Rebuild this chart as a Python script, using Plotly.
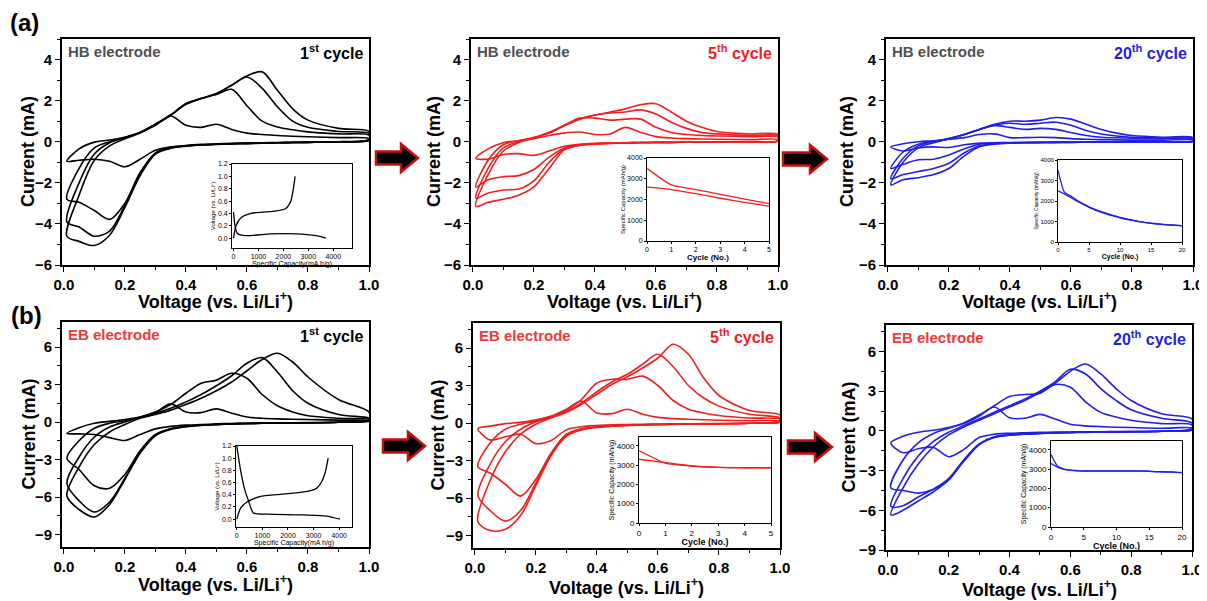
import plotly.graph_objects as go

# The page draws the figure 8 px in from the top-left corner of the window,
# so the figure is sized/offset to place everything at the reference pixel positions.
WIN_W, WIN_H = 1207, 601
OFF = 8
W, H = WIN_W - OFF, WIN_H - OFF
BLACK = "#000000"
RED = "#f01e1e"
BLUE = "#1f1fe6"

# ---------------- CV data (current in mA on a shared voltage grid) ----------------
V_GRID = [0.01, 0.05, 0.1, 0.15, 0.2, 0.25, 0.3, 0.35, 0.4, 0.45, 0.5, 0.55, 0.6, 0.65, 0.7, 0.75, 0.8, 0.9, 1.0]

HB1_ANODIC = [
    [-0.95, -0.35, -0.02, 0.08, 0.22, 0.45, 0.80, 1.25, 0.80, 0.70, 0.85, 0.60, 0.42, 0.35, 0.30, 0.27, 0.24, 0.20, 0.15],
    [-2.80, -1.30, -0.30, 0.00, 0.20, 0.45, 0.85, 1.30, 1.85, 2.10, 2.30, 2.55, 1.75, 1.00, 0.72, 0.58, 0.48, 0.38, 0.32],
    [-3.90, -2.00, -0.60, -0.05, 0.20, 0.45, 0.85, 1.30, 1.85, 2.10, 2.35, 2.75, 3.15, 2.60, 1.70, 1.00, 0.70, 0.50, 0.40],
    [-4.60, -2.60, -0.90, -0.20, 0.15, 0.42, 0.82, 1.28, 1.82, 2.10, 2.35, 2.75, 3.20, 3.40, 2.50, 1.60, 1.05, 0.65, 0.50],
]
HB1_CATHODIC = [
    [-0.95, -0.90, -0.85, -0.95, -1.22, -0.85, -0.42, -0.25, -0.18, -0.13, -0.10, -0.08, -0.06, -0.05, -0.04, -0.03, -0.02, 0.00, 0.05],
    [-2.80, -2.95, -3.35, -3.78, -3.00, -1.50, -0.55, -0.30, -0.20, -0.15, -0.12, -0.10, -0.08, -0.06, -0.05, -0.04, -0.03, 0.00, 0.08],
    [-3.90, -4.15, -4.60, -4.35, -3.10, -1.55, -0.55, -0.30, -0.20, -0.15, -0.12, -0.10, -0.08, -0.06, -0.05, -0.04, -0.03, 0.00, 0.10],
    [-4.60, -4.85, -5.05, -4.55, -3.20, -1.65, -0.60, -0.32, -0.22, -0.16, -0.13, -0.11, -0.09, -0.07, -0.05, -0.04, -0.03, 0.00, 0.12],
]

HB5_ANODIC = [
    [-0.80, -0.35, -0.05, 0.05, 0.15, 0.30, 0.42, 0.47, 0.35, 0.38, 0.70, 0.45, 0.25, 0.18, 0.15, 0.13, 0.12, 0.10, 0.10],
    [-2.20, -0.90, -0.15, 0.05, 0.20, 0.45, 0.80, 1.15, 1.15, 1.05, 1.10, 1.10, 0.70, 0.45, 0.35, 0.30, 0.28, 0.25, 0.22],
    [-2.75, -1.30, -0.30, 0.00, 0.20, 0.45, 0.80, 1.10, 1.30, 1.40, 1.45, 1.55, 1.35, 0.95, 0.65, 0.45, 0.38, 0.30, 0.28],
    [-3.15, -1.60, -0.45, -0.05, 0.18, 0.42, 0.78, 1.10, 1.30, 1.45, 1.60, 1.80, 1.85, 1.45, 1.00, 0.70, 0.50, 0.38, 0.35],
]
HB5_CATHODIC = [
    [-0.80, -0.85, -0.62, -0.58, -0.66, -0.45, -0.22, -0.12, -0.08, -0.06, -0.05, -0.04, -0.03, -0.03, -0.02, -0.02, -0.01, 0.00, 0.03],
    [-2.20, -1.85, -1.70, -1.65, -1.35, -0.75, -0.30, -0.15, -0.10, -0.07, -0.05, -0.04, -0.03, -0.03, -0.02, -0.02, -0.01, 0.00, 0.05],
    [-2.75, -2.50, -2.35, -2.30, -1.90, -1.00, -0.35, -0.15, -0.10, -0.07, -0.05, -0.04, -0.03, -0.03, -0.02, -0.02, -0.01, 0.00, 0.05],
    [-3.15, -2.95, -2.80, -2.60, -2.20, -1.30, -0.40, -0.18, -0.12, -0.08, -0.06, -0.05, -0.04, -0.03, -0.02, -0.02, -0.01, 0.00, 0.05],
]

HB20_ANODIC = [
    [-0.25, -0.10, 0.00, 0.05, 0.12, 0.20, 0.35, 0.38, 0.20, 0.20, 0.22, 0.20, 0.15, 0.12, 0.10, 0.09, 0.08, 0.08, 0.08],
    [-1.30, -0.50, -0.12, 0.02, 0.15, 0.35, 0.60, 0.78, 0.70, 0.60, 0.65, 0.60, 0.45, 0.30, 0.22, 0.19, 0.17, 0.15, 0.14],
    [-1.80, -0.80, -0.20, 0.00, 0.15, 0.35, 0.60, 0.82, 0.90, 0.85, 0.90, 0.95, 0.80, 0.55, 0.38, 0.28, 0.22, 0.18, 0.16],
    [-2.10, -1.00, -0.30, -0.05, 0.14, 0.35, 0.60, 0.85, 1.00, 1.00, 1.05, 1.18, 1.10, 0.85, 0.60, 0.42, 0.30, 0.22, 0.20],
]
HB20_CATHODIC = [
    [-0.25, -0.45, -0.30, -0.25, -0.28, -0.15, -0.07, -0.05, -0.04, -0.03, -0.03, -0.02, -0.02, -0.02, -0.01, -0.01, -0.01, 0.00, 0.02],
    [-1.30, -1.10, -0.88, -0.85, -0.65, -0.35, -0.12, -0.07, -0.05, -0.04, -0.03, -0.03, -0.02, -0.02, -0.02, -0.01, -0.01, 0.00, 0.03],
    [-1.80, -1.60, -1.45, -1.30, -1.05, -0.55, -0.20, -0.10, -0.06, -0.05, -0.04, -0.03, -0.03, -0.02, -0.02, -0.01, -0.01, 0.00, 0.03],
    [-2.10, -1.85, -1.75, -1.60, -1.30, -0.70, -0.25, -0.12, -0.07, -0.05, -0.04, -0.03, -0.03, -0.02, -0.02, -0.01, -0.01, 0.00, 0.03],
]

EB1_ANODIC = [
    [-0.90, -0.45, -0.10, 0.05, 0.20, 0.40, 0.75, 1.45, 0.80, 0.75, 1.05, 0.70, 0.40, 0.30, 0.25, 0.22, 0.20, 0.15, 0.10],
    [-2.90, -1.50, -0.50, -0.10, 0.10, 0.40, 0.80, 1.40, 2.30, 3.10, 3.35, 3.90, 3.50, 2.20, 1.30, 0.80, 0.50, 0.30, 0.20],
    [-4.90, -2.80, -1.20, -0.40, 0.00, 0.35, 0.70, 1.10, 1.60, 2.20, 2.90, 3.70, 4.70, 5.15, 4.00, 2.50, 1.50, 0.60, 0.30],
    [-5.90, -3.60, -1.80, -0.80, -0.20, 0.30, 0.60, 0.95, 1.40, 1.90, 2.50, 3.20, 4.10, 5.00, 5.50, 4.80, 3.60, 1.80, 0.80],
]
EB1_CATHODIC = [
    [-0.90, -0.95, -1.00, -1.25, -1.48, -1.00, -0.55, -0.35, -0.25, -0.20, -0.15, -0.12, -0.10, -0.08, -0.07, -0.06, -0.05, -0.02, 0.05],
    [-2.90, -3.80, -5.10, -5.30, -4.20, -2.30, -1.00, -0.55, -0.35, -0.25, -0.20, -0.15, -0.12, -0.10, -0.08, -0.07, -0.06, -0.02, 0.10],
    [-4.90, -6.30, -7.20, -6.40, -4.50, -2.40, -1.05, -0.55, -0.35, -0.25, -0.20, -0.15, -0.12, -0.10, -0.08, -0.07, -0.06, -0.02, 0.15],
    [-5.90, -7.00, -7.60, -6.60, -4.60, -2.50, -1.10, -0.60, -0.38, -0.27, -0.21, -0.16, -0.13, -0.10, -0.09, -0.08, -0.07, -0.02, 0.20],
]

EB5_ANODIC = [
    [-0.45, -0.25, -0.05, 0.05, 0.25, 0.55, 1.10, 1.75, 0.80, 0.75, 1.10, 0.70, 0.45, 0.35, 0.30, 0.26, 0.22, 0.18, 0.15],
    [-3.50, -1.60, -0.50, -0.10, 0.15, 0.50, 1.00, 1.90, 3.20, 3.50, 3.50, 3.75, 3.00, 1.80, 1.10, 0.80, 0.60, 0.40, 0.30],
    [-5.80, -3.30, -1.50, -0.50, 0.10, 0.45, 0.90, 1.60, 2.50, 3.30, 3.90, 4.70, 5.50, 4.50, 3.00, 2.00, 1.35, 0.70, 0.40],
    [-7.90, -4.60, -2.30, -0.90, -0.10, 0.40, 0.85, 1.50, 2.30, 3.10, 3.70, 4.40, 5.20, 6.30, 5.50, 3.60, 2.20, 1.00, 0.65],
]
EB5_CATHODIC = [
    [-0.45, -1.35, -1.10, -0.90, -1.65, -1.40, -0.55, -0.30, -0.20, -0.15, -0.12, -0.10, -0.08, -0.07, -0.06, -0.05, -0.04, -0.02, 0.05],
    [-3.50, -4.00, -4.90, -5.85, -4.50, -2.40, -0.90, -0.45, -0.30, -0.22, -0.18, -0.14, -0.12, -0.10, -0.08, -0.07, -0.06, -0.02, 0.10],
    [-5.80, -7.00, -7.85, -7.00, -4.80, -2.50, -1.00, -0.50, -0.32, -0.24, -0.19, -0.15, -0.12, -0.10, -0.08, -0.07, -0.06, -0.02, 0.15],
    [-7.90, -8.60, -8.50, -7.40, -5.00, -2.60, -1.05, -0.55, -0.35, -0.26, -0.20, -0.16, -0.13, -0.11, -0.09, -0.08, -0.07, -0.02, 0.20],
]

EB20_ANODIC = [
    [-0.90, -0.40, -0.10, 0.05, 0.25, 0.55, 1.10, 1.80, 1.00, 0.95, 1.25, 0.90, 0.50, 0.38, 0.32, 0.28, 0.25, 0.20, 0.20],
    [-4.30, -2.20, -0.90, -0.20, 0.20, 0.60, 1.20, 1.90, 2.60, 2.75, 2.85, 3.50, 3.30, 2.20, 1.40, 1.05, 0.80, 0.55, 0.45],
    [-5.70, -3.60, -1.90, -0.80, -0.10, 0.40, 0.90, 1.40, 1.90, 2.40, 3.00, 3.70, 4.65, 4.30, 3.20, 2.30, 1.60, 0.95, 0.60],
    [-6.35, -4.30, -2.50, -1.20, -0.30, 0.30, 0.80, 1.30, 1.80, 2.30, 2.90, 3.60, 4.50, 5.05, 4.30, 3.20, 2.30, 1.30, 0.90],
]
EB20_CATHODIC = [
    [-0.90, -1.65, -1.35, -1.25, -1.95, -1.40, -0.50, -0.25, -0.18, -0.14, -0.11, -0.09, -0.08, -0.07, -0.06, -0.05, -0.04, -0.02, 0.05],
    [-4.30, -4.50, -4.70, -4.40, -3.70, -2.20, -1.00, -0.45, -0.30, -0.22, -0.18, -0.15, -0.12, -0.10, -0.09, -0.08, -0.07, -0.03, 0.10],
    [-5.70, -5.65, -5.00, -4.40, -3.60, -2.20, -1.00, -0.48, -0.32, -0.24, -0.19, -0.15, -0.12, -0.10, -0.09, -0.08, -0.07, -0.03, 0.15],
    [-6.35, -6.00, -5.30, -4.60, -3.70, -2.30, -1.05, -0.50, -0.33, -0.25, -0.20, -0.16, -0.13, -0.11, -0.09, -0.08, -0.07, -0.03, 0.20],
]

# ---------------- inset data ----------------
HB1_CHG_CAP = [0, 100, 300, 700, 1200, 1700, 2100, 2300, 2400, 2470]
HB1_CHG_V = [0.0, 0.2, 0.33, 0.40, 0.42, 0.44, 0.48, 0.60, 0.80, 1.0]
HB1_DIS_CAP = [0, 60, 150, 500, 1500, 2500, 3300, 3700]
HB1_DIS_V = [0.42, 0.20, 0.08, 0.04, 0.07, 0.07, 0.04, 0.0]

EB1_CHG_CAP = [0, 150, 400, 900, 1800, 2700, 3100, 3300, 3450, 3570]
EB1_CHG_V = [0.0, 0.18, 0.28, 0.37, 0.41, 0.45, 0.50, 0.60, 0.76, 1.0]
EB1_DIS_CAP = [0, 150, 300, 450, 650, 1200, 2500, 3500, 4030]
EB1_DIS_V = [1.2, 0.8, 0.5, 0.31, 0.10, 0.08, 0.07, 0.05, 0.0]

CYCLES_5 = [0, 1, 2, 3, 4, 5]
HB5_CAP_A = [3500, 2700, 2480, 2250, 2020, 1800]
HB5_CAP_B = [2600, 2480, 2280, 2060, 1860, 1680]
EB5_CAP_A = [3750, 3100, 2950, 2880, 2860, 2860]
EB5_CAP_B = [3300, 3120, 2960, 2880, 2860, 2850]

CYCLES_20 = [0, 1, 2, 3, 4, 5, 6, 7, 8, 9, 10, 11, 12, 13, 14, 15, 16, 17, 18, 19, 20]
HB20_CAP_A = [3500, 2450, 2250, 2050, 1880, 1720, 1590, 1480, 1380, 1290, 1200, 1130, 1070, 1010, 960, 920, 890, 860, 840, 820, 800]
HB20_CAP_B = [2500, 2350, 2180, 2000, 1840, 1690, 1560, 1450, 1350, 1260, 1180, 1110, 1050, 990, 950, 910, 875, 850, 830, 810, 790]
EB20_CAP_A = [3750, 3150, 3000, 2940, 2920, 2900, 2900, 2900, 2900, 2900, 2900, 2900, 2900, 2900, 2900, 2890, 2870, 2860, 2850, 2840, 2820]
EB20_CAP_B = [3280, 3100, 2980, 2930, 2910, 2890, 2890, 2890, 2890, 2890, 2890, 2890, 2890, 2890, 2890, 2880, 2860, 2850, 2840, 2830, 2810]

ELECTRODE_LABELS = ["HB electrode", "HB electrode", "HB electrode", "EB electrode", "EB electrode", "EB electrode"]
CYCLE_NUMS = ["1", "5", "20", "1", "5", "20"]
CYCLE_SUPS = ["st", "th", "th", "st", "th", "th"]

# ---------------- layout geometry (window pixels) ----------------
MAIN_BOX = [(62, 369, 39, 265), (471, 778, 39, 265), (886, 1193, 39, 265),
            (62, 369, 322, 547), (473, 780, 323, 548), (886, 1192, 325, 550)]
MAIN_YRANGE = [(-6, 5), (-6, 5), (-6, 5), (-10, 8), (-10, 8), (-9, 8)]
INSET_BOX = [(232, 352, 164, 248), (647, 769, 158, 241), (1058, 1182, 160, 242),
             (236, 352, 446, 527), (639, 771, 437, 523), (1051, 1182, 441, 527)]
PANEL_COLOR = [BLACK, RED, BLUE, BLACK, RED, BLUE]
ELEC_COLOR = ["#505050", "#505050", "#505050", "#f03a3a", "#f03a3a", "#f03a3a"]


def px_x(p):
    return (p - OFF) / W


def px_y(p):
    return 1 - (p - OFF) / H


def dx(a, b):
    return [px_x(a), px_x(b)]


def dy(top, bottom):
    return [px_y(bottom), px_y(top)]


fig = go.Figure()

cv_sets = [(HB1_ANODIC, HB1_CATHODIC), (HB5_ANODIC, HB5_CATHODIC), (HB20_ANODIC, HB20_CATHODIC),
           (EB1_ANODIC, EB1_CATHODIC), (EB5_ANODIC, EB5_CATHODIC), (EB20_ANODIC, EB20_CATHODIC)]

for i, (an, ca) in enumerate(cv_sets):
    ax = "" if i == 0 else str(i + 1)
    for a_loop, c_loop in zip(an, ca):
        fig.add_trace(go.Scatter(
            x=V_GRID + V_GRID[::-1], y=a_loop + c_loop[::-1],
            mode="lines", line=dict(color=PANEL_COLOR[i], width=1.6, shape="spline", smoothing=0.9),
            xaxis="x" + ax, yaxis="y" + ax, hoverinfo="skip", showlegend=False))

# insets
inset_traces = [
    [(HB1_CHG_CAP, HB1_CHG_V), (HB1_DIS_CAP, HB1_DIS_V)],
    [(CYCLES_5, HB5_CAP_A), (CYCLES_5, HB5_CAP_B)],
    [(CYCLES_20, HB20_CAP_A), (CYCLES_20, HB20_CAP_B)],
    [(EB1_CHG_CAP, EB1_CHG_V), (EB1_DIS_CAP, EB1_DIS_V)],
    [(CYCLES_5, EB5_CAP_A), (CYCLES_5, EB5_CAP_B)],
    [(CYCLES_20, EB20_CAP_A), (CYCLES_20, EB20_CAP_B)],
]
for i, trs in enumerate(inset_traces):
    n = str(i + 7)
    for xs, ys in trs:
        fig.add_trace(go.Scatter(
            x=xs, y=ys, mode="lines",
            line=dict(color=PANEL_COLOR[i], width=1.3, shape="spline", smoothing=0.6),
            xaxis="x" + n, yaxis="y" + n, hoverinfo="skip", showlegend=False))

FONT = "Liberation Sans, Arial, sans-serif"
layout = dict(
    template="none",
    width=W, height=H, margin=dict(l=0, r=0, t=0, b=0, pad=0, autoexpand=False),
    paper_bgcolor="white", plot_bgcolor="white", showlegend=False,
    font=dict(family=FONT, color="black"),
)

for i in range(6):
    n = "" if i == 0 else str(i + 1)
    x0, x1, y0, y1 = MAIN_BOX[i]
    row2 = i >= 3
    layout["xaxis" + n] = dict(
        domain=dx(x0, x1), range=[-0.006, 1.0], anchor="y" + n, automargin=False,
        showline=True, mirror=True, linecolor="black", linewidth=1.6,
        ticks="outside", ticklen=5, tickwidth=1.3, tickcolor="black",
        tick0=0, dtick=0.2, tickformat=".1f",
        minor=dict(ticks="outside", ticklen=3, tickcolor="black", dtick=0.1, showgrid=False),
        showgrid=False, zeroline=False,
        tickfont=dict(family=FONT, size=15, color="black", weight="bold"))
    layout["yaxis" + n] = dict(
        domain=dy(y0, y1), range=list(MAIN_YRANGE[i]), anchor="x" + n, automargin=False,
        showline=True, mirror=True, linecolor="black", linewidth=1.6,
        ticks="outside", ticklen=5, tickwidth=1.3, tickcolor="black",
        tick0=0, dtick=3 if row2 else 2,
        minor=dict(ticks="outside", ticklen=3, tickcolor="black", dtick=1.5 if row2 else 1, showgrid=False),
        showgrid=False, zeroline=False,
        tickfont=dict(family=FONT, size=15, color="black", weight="bold"))

INSET_XRANGE = [(-60, 4750), (0, 5), (0, 20), (-30, 4500), (0, 5), (0, 20)]
INSET_YRANGE = [(-0.16, 1.2), (0, 4000), (0, 4000), (-0.13, 1.2), (0, 4450), (0, 4450)]
INSET_XDTICK = [1000, 1, 5, 1000, 1, 5]
INSET_YDTICK = [0.2, 1000, 1000, 0.2, 1000, 1000]
INSET_XTITLE = ["Specific Capacity(mA h/g)", "Cycle (No.)", "Cycle (No.)",
                "Specific Capacity(mA h/g)", "Cycle (No.)", "Cycle (No.)"]
INSET_YTITLE = ["Voltage (vs. Li/Li<sup>+</sup>)", "Specific Capacity (mAh/g)", "Specific Capacity (mAh/g)",
                "Voltage (vs. Li/Li<sup>+</sup>)", "Specific Capacity (mAh/g)", "Specific Capacity (mAh/g)"]
INSET_FS = [7, 7, 6, 7, 8, 8]

for i in range(6):
    n = str(i + 7)
    x0, x1, y0, y1 = INSET_BOX[i]
    fs = INSET_FS[i]
    cyc = i in (1, 2, 4, 5)
    layout["xaxis" + n] = dict(
        domain=dx(x0, x1), range=list(INSET_XRANGE[i]), anchor="y" + n, automargin=False,
        showline=True, mirror=True, linecolor="black", linewidth=0.8,
        ticks="outside", ticklen=2, tickwidth=0.8, tickcolor="black",
        tick0=0, dtick=INSET_XDTICK[i], showgrid=False, zeroline=False,
        tickfont=dict(family=FONT, size=fs, color="black"),
        title=dict(text=INSET_XTITLE[i], standoff=1,
                   font=dict(family=FONT, size=fs + (1 if cyc else 0), color="black",
                             weight="bold" if cyc else "normal")))
    layout["yaxis" + n] = dict(
        domain=dy(y0, y1), range=list(INSET_YRANGE[i]), anchor="x" + n, automargin=False,
        showline=True, mirror=True, linecolor="black", linewidth=0.8,
        ticks="outside", ticklen=2, tickwidth=0.8, tickcolor="black",
        tick0=0, dtick=INSET_YDTICK[i], showgrid=False, zeroline=False,
        tickformat=".1f" if not cyc else "d",
        tickfont=dict(family=FONT, size=fs, color="black"),
        title=dict(text=INSET_YTITLE[i], standoff=1,
                   font=dict(family=FONT, size=fs - 1, color="black")))

annotations = []


def ann(text, xp, yp, size, color="black", xanchor="center", yanchor="middle", angle=0, family=FONT):
    annotations.append(dict(
        text=text, x=px_x(xp), y=px_y(yp), xref="paper", yref="paper",
        xanchor=xanchor, yanchor=yanchor, showarrow=False, textangle=angle,
        font=dict(family=family, size=size, color=color, weight="bold")))


ann("(a)", 24, 22, 24)
ann("(b)", 26, 315, 24)

YTITLE_X = [28, 434, 847, 28, 437, 849]
XTITLE_Y = [300, 300, 300, 583, 586, 588]
for i in range(6):
    x0, x1, y0, y1 = MAIN_BOX[i]
    ann(ELECTRODE_LABELS[i], x0 + 4, y0 + 12, 15, color=ELEC_COLOR[i], xanchor="left")
    ann(CYCLE_NUMS[i] + "<sup>" + CYCLE_SUPS[i] + "</sup> cycle", x1 - 4, y0 + 13, 16,
        color=PANEL_COLOR[i], xanchor="right")
    ann("Current (mA)", YTITLE_X[i], (y0 + y1) / 2, 18, angle=-90)
    ann("Voltage (vs. Li/Li<sup>+</sup>)", (x0 + x1) / 2, XTITLE_Y[i], 18)

layout["annotations"] = annotations

# arrows between panels
ARROWS = [(376, 418, 158), (783, 827, 159), (383, 425, 446), (788, 832, 447)]
shapes = []
for (xa, xb, yc) in ARROWS:
    head = 17
    sh, hh = 6.5, 14
    pts = [(xa, yc - sh), (xb - head, yc - sh), (xb - head, yc - hh), (xb, yc),
           (xb - head, yc + hh), (xb - head, yc + sh), (xa, yc + sh)]
    path = "M " + " L ".join(f"{px_x(p):.5f},{px_y(q):.5f}" for p, q in pts) + " Z"
    shapes.append(dict(type="path", path=path, xref="paper", yref="paper",
                       fillcolor="black", line=dict(color="#c41010", width=2.5)))
layout["shapes"] = shapes

fig.update_layout(**layout)
fig.write_html("out.html")
